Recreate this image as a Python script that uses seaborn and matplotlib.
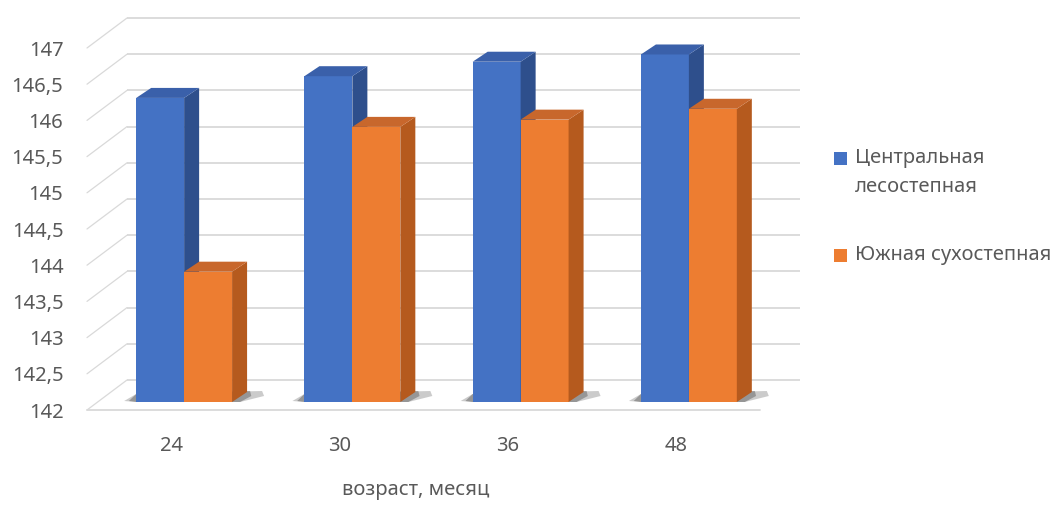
import pandas as pd
import seaborn as sns
import matplotlib.pyplot as plt
from matplotlib.patches import Polygon, Rectangle
from matplotlib.transforms import ScaledTranslation

# данные
ages = ['24', '30', '36', '48']
zones = ['Центральная лесостепная', 'Южная сухостепная']
central = [146.2, 146.5, 146.7, 146.8]
south = [143.8, 145.8, 145.9, 146.05]
y_ticks = [142, 142.5, 143, 143.5, 144, 144.5, 145, 145.5, 146, 146.5, 147]
y_labels = ['142', '142,5', '143', '143,5', '144', '144,5', '145', '145,5', '146', '146,5', '147']

front_colors = ['#4472C4', '#ED7D31']
side_colors = ['#2E4F8C', '#B55A1E']
top_colors = ['#3A60AA', '#C8672C']
grid_color = '#D9D9D9'
text_color = '#595959'


def main():
    df = pd.DataFrame({
        'возраст': ages * 2,
        'значение': central + south,
        'зона': [zones[0]] * len(ages) + [zones[1]] * len(ages),
    })

    sns.set_style('white')
    plt.rcParams['font.family'] = ['Noto Sans', 'DejaVu Sans']

    W, H = 1059, 505
    fig = plt.figure(figsize=(W / 100, H / 100), dpi=100)
    # передняя плоскость диаграммы
    ax = fig.add_axes([87 / W, (H - 410) / H, 673 / W, 362 / H])

    sns.barplot(data=df, x='возраст', y='значение', hue='зона', palette=front_colors,
                saturation=1, width=0.57, legend=False, linewidth=0, edgecolor='none', ax=ax)
    ax.set_xlim(-0.5, 3.5)
    ax.set_ylim(142, 147)
    base = 142

    ppx = 673 / 4.0   # пикселей на единицу по x
    ppy = 362 / 5.0   # пикселей на единицу по y

    # смещения для псевдо-3D
    bar_off = ax.transData + ScaledTranslation(13 / 100, 8 / 100, fig.dpi_scale_trans)
    back_off = ax.transData + ScaledTranslation(40 / 100, 30 / 100, fig.dpi_scale_trans)
    ddx, ddy = 15 / ppx, 10 / ppy

    # задняя стенка с линиями сетки
    ax.hlines(y_ticks, -0.5, 3.5, colors=grid_color, lw=1.3, transform=back_off,
              clip_on=False, zorder=0)
    # левая стенка
    bx, by = 40 / ppx, 30 / ppy
    for v in y_ticks:
        ax.plot([-0.5, -0.5 + bx], [v, v + by], color=grid_color, lw=0.9,
                clip_on=False, zorder=0)
    # пол
    ax.plot([-0.5, 3.5], [base, base], color=grid_color, lw=1.3, clip_on=False, zorder=0)

    n = len(ages)
    patches = list(ax.patches)
    for i, p in enumerate(patches):
        k = i // n
        top = p.get_height()
        p.set_y(base)
        p.set_height(top - base)
        p.set_transform(bar_off)
        p.set_clip_on(False)
        p.set_zorder(3 + k)
        x0, w = p.get_x(), p.get_width()
        side = [(x0 + w, base), (x0 + w, top), (x0 + w + ddx, top + ddy), (x0 + w + ddx, base + ddy)]
        lid = [(x0, top), (x0 + w, top), (x0 + w + ddx, top + ddy), (x0 + ddx, top + ddy)]
        ax.add_patch(Polygon(side, closed=True, facecolor=side_colors[k], edgecolor='none',
                             transform=bar_off, clip_on=False, zorder=3 + k))
        ax.add_patch(Polygon(lid, closed=True, facecolor=top_colors[k], edgecolor='none',
                             transform=bar_off, clip_on=False, zorder=3 + k))

    # мягкие тени на полу под парами столбцов
    for j in range(n):
        left = patches[j].get_x()
        right = patches[n + j].get_x() + patches[n + j].get_width()
        for grow, alpha in [(1.0, 0.25), (0.6, 0.35)]:
            shadow = [(left - 12 * grow / ppx, base + 1 / ppy), (left, base + 8 / ppy),
                      (right + 30 * grow / ppx, base + 11 / ppy),
                      (right + 32 * grow / ppx, base + 6 / ppy),
                      (right + 8 / ppx, base), (left, base)]
            ax.add_patch(Polygon(shadow, closed=True, facecolor='#333333', edgecolor='none',
                                 alpha=alpha, transform=bar_off, clip_on=False, zorder=2))

    ax.set_yticks(y_ticks)
    ax.set_yticklabels(y_labels)
    ax.tick_params(axis='both', length=0, labelsize=14.5, labelcolor=text_color)
    ax.tick_params(axis='y', pad=17)
    ax.tick_params(axis='x', pad=19)
    for s in ax.spines.values():
        s.set_visible(False)
    ax.set_ylabel('')
    ax.set_xlabel('возраст, месяц', fontsize=14.5, color=text_color, va='center')
    ax.xaxis.set_label_coords((416 - 87) / 673, -(490 - 410) / 362)

    # легенда
    sq = 13
    entries = [(zones[0], ['Центральная', 'лесостепная'], 158), (zones[1], ['Южная сухостепная'], 255)]
    for k, (name, lines, yc) in enumerate(entries):
        fig.patches.append(Rectangle((834 / W, 1 - (yc + sq / 2) / H), sq / W, sq / H,
                                     transform=fig.transFigure, facecolor=front_colors[k],
                                     edgecolor='none'))
        for j, line in enumerate(lines):
            fig.text(855 / W, 1 - (yc + 29 * j) / H, line, fontsize=14.5, color=text_color,
                     va='center', ha='left')

    fig.savefig('out.png', dpi=100)


if __name__ == "__main__":
    main()
